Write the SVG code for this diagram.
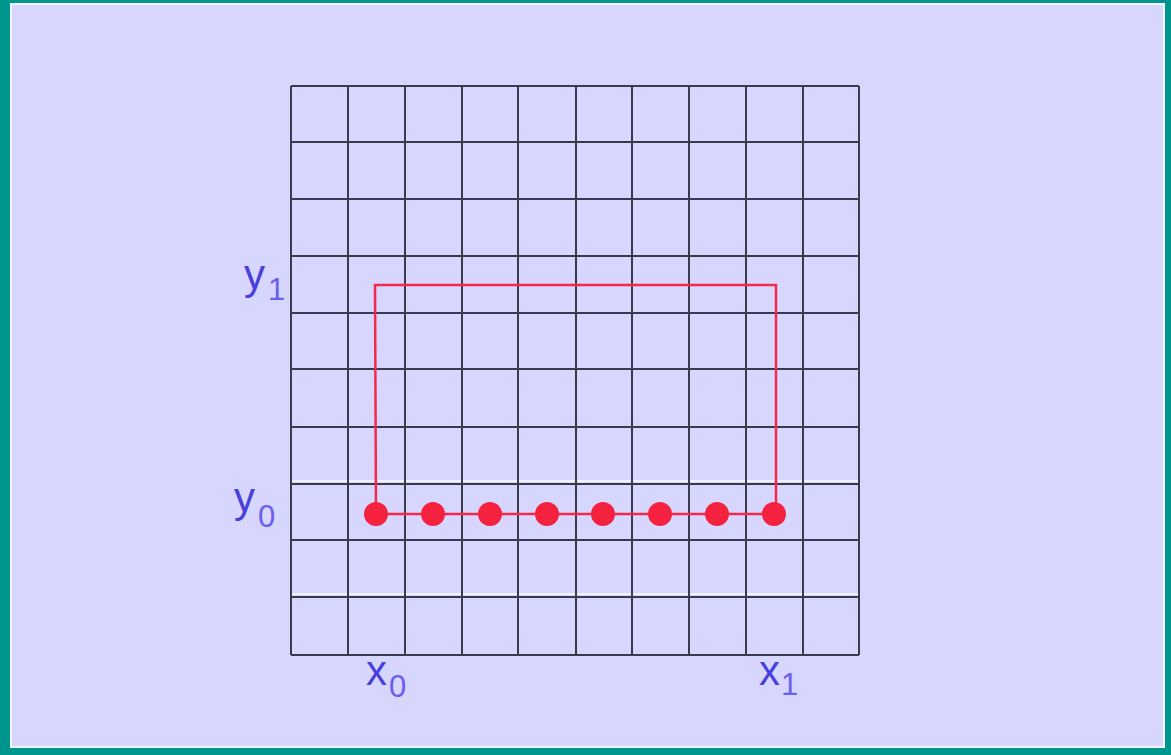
<svg xmlns="http://www.w3.org/2000/svg" width="1171" height="755" viewBox="0 0 1171 755">
<style>
.grid line{stroke:#3a3a4a;stroke-width:2}
.grid line.hl{stroke:#f2f2ff;stroke-width:2}
.lbl{font-family:"Liberation Sans",Arial,sans-serif;fill:#4b3fdc}
.main{font-size:42px}
.sub{font-size:31px;fill:#6a5ff0}
.red{stroke:#f5284a;stroke-width:2.5;fill:none}
.dot{fill:#f5223f}
</style>
<rect x="0" y="0" width="1171" height="755" fill="#009690"/>
<rect x="10" y="3" width="1155" height="745" fill="#f4f4ff"/>
<rect x="12" y="5" width="1151" height="741" fill="#d6d6fe"/>
<g id="grid" class="grid">
<line class="hl" x1="291" y1="481" x2="859" y2="481"/>
<line class="hl" x1="291" y1="594" x2="859" y2="594"/>
<line x1="291" y1="86" x2="291" y2="655"/>
<line x1="348" y1="86" x2="348" y2="655"/>
<line x1="405" y1="86" x2="405" y2="655"/>
<line x1="462" y1="86" x2="462" y2="655"/>
<line x1="518" y1="86" x2="518" y2="655"/>
<line x1="576" y1="86" x2="576" y2="655"/>
<line x1="632" y1="86" x2="632" y2="655"/>
<line x1="689" y1="86" x2="689" y2="655"/>
<line x1="746" y1="86" x2="746" y2="655"/>
<line x1="803" y1="86" x2="803" y2="655"/>
<line x1="859" y1="86" x2="859" y2="655"/>
<line x1="291" y1="86" x2="859" y2="86"/>
<line x1="291" y1="142" x2="859" y2="142"/>
<line x1="291" y1="199" x2="859" y2="199"/>
<line x1="291" y1="256" x2="859" y2="256"/>
<line x1="291" y1="313" x2="859" y2="313"/>
<line x1="291" y1="369" x2="859" y2="369"/>
<line x1="291" y1="427" x2="859" y2="427"/>
<line x1="291" y1="484" x2="859" y2="484"/>
<line x1="291" y1="540" x2="859" y2="540"/>
<line x1="291" y1="597" x2="859" y2="597"/>
<line x1="291" y1="655" x2="859" y2="655"/>
</g>
<g id="connectors">
<polyline class="red" points="376,513 375,285 776,285 776,513"/>
<line class="red" x1="376" y1="514" x2="774" y2="514"/>
</g>
<g id="dots">
<circle class="dot" cx="376" cy="514" r="12"/>
<circle class="dot" cx="433" cy="514" r="12"/>
<circle class="dot" cx="490" cy="514" r="12"/>
<circle class="dot" cx="547" cy="514" r="12"/>
<circle class="dot" cx="603" cy="514" r="12"/>
<circle class="dot" cx="660" cy="514" r="12"/>
<circle class="dot" cx="717" cy="514" r="12"/>
<circle class="dot" cx="774" cy="514" r="12"/>
</g>
<g id="label-y1" class="lbl"><text x="244" y="289" class="main">y</text><text x="268" y="300" class="sub">1</text></g>
<g id="label-y0" class="lbl"><text x="234" y="512" class="main">y</text><text x="258" y="527" class="sub">0</text></g>
<g id="label-x0" class="lbl"><text x="366" y="685" class="main">x</text><text x="389" y="697" class="sub">0</text></g>
<g id="label-x1" class="lbl"><text x="759" y="685" class="main">x</text><text x="781" y="695" class="sub">1</text></g>
</svg>
